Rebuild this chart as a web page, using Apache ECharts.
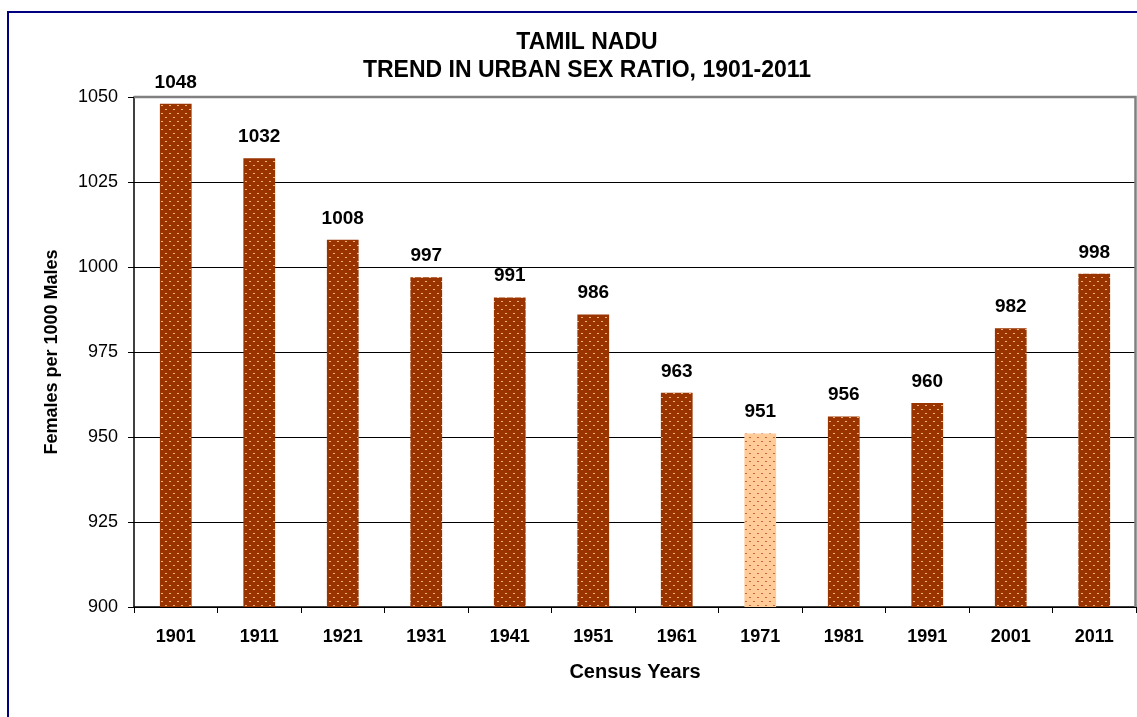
<!DOCTYPE html>
<html>
<head>
<meta charset="utf-8">
<script src="https://cdn.jsdelivr.net/npm/echarts@6/dist/echarts.min.js"></script>
<style>
  html, body { margin: 0; padding: 0; background: #fff; }
  #main { width: 1137px; height: 717px; }
</style>
</head>
<body>
<div id="main"></div>
<script>
var years = ['1901', '1911', '1921', '1931', '1941', '1951', '1961', '1971', '1981', '1991', '2001', '2011'];
var sexRatio = [1048, 1032, 1008, 997, 991, 986, 963, 951, 956, 960, 982, 998];
var lowestYear = '1971';
var yTicks = [900, 925, 950, 975, 1000, 1025, 1050];

// dotted fill like the spreadsheet pattern
function makePattern(bg, dot) {
  var c = document.createElement('canvas');
  c.width = 8; c.height = 8;
  var ctx = c.getContext('2d');
  ctx.fillStyle = bg;
  ctx.fillRect(0, 0, 8, 8);
  ctx.fillStyle = dot;
  ctx.fillRect(1, 1, 2, 1);
  ctx.fillRect(5, 5, 2, 1);
  return { image: c, repeat: 'repeat' };
}
var brown = makePattern('#993300', '#f2b27a');
var peach = makePattern('#ffcc99', '#c8642d');

var chart = echarts.init(document.getElementById('main'));
var font = 'Liberation Sans, Arial, sans-serif';

var option = {
  animation: false,
  textStyle: { fontFamily: font },
  title: {
    text: 'TAMIL NADU\nTREND IN URBAN SEX RATIO, 1901-2011',
    left: 582,
    textAlign: 'center',
    top: 24,
    textStyle: { fontSize: 23, fontWeight: 'bold', color: '#000', lineHeight: 28, fontFamily: font }
  },
  graphic: [{
    type: 'rect',
    shape: { x: 8, y: 12, width: 1300, height: 900 },
    style: { fill: 'none', stroke: '#000080', lineWidth: 2 },
    silent: true
  }, {
    type: 'polyline',
    shape: { points: [[134, 97], [1135.5, 97], [1135.5, 607]] },
    style: { fill: 'none', stroke: '#808080', lineWidth: 2.5 },
    silent: true,
    z: 10
  }],
  grid: { left: 134, right: 1, top: 97, bottom: 110 },
  xAxis: {
    type: 'category',
    data: years,
    name: 'Census Years',
    nameLocation: 'middle',
    nameGap: 55,
    nameTextStyle: { fontSize: 20, fontWeight: 'bold', color: '#000', fontFamily: font },
    axisLine: { lineStyle: { color: '#000', width: 1.5 } },
    axisTick: { show: true, alignWithLabel: false, length: 6, lineStyle: { color: '#000' } },
    axisLabel: { fontSize: 18, fontWeight: 'bold', color: '#000', margin: 21, fontFamily: font }
  },
  yAxis: {
    type: 'value',
    min: yTicks[0],
    max: yTicks[yTicks.length - 1],
    interval: 25,
    name: 'Females per 1000 Males',
    nameLocation: 'middle',
    nameGap: 73,
    nameTextStyle: { fontSize: 18, fontWeight: 'bold', color: '#000', fontFamily: font },
    axisLine: { show: true, lineStyle: { color: '#000', width: 1.5 } },
    axisTick: { show: true, length: 6, lineStyle: { color: '#000' } },
    axisLabel: {
      fontSize: 18, color: '#000', margin: 16, fontFamily: font,
      formatter: function (v) { return String(v); }
    },
    splitLine: { show: true, lineStyle: { color: '#000', width: 1 } }
  },
  series: [{
    type: 'bar',
    barWidth: '38%',
    data: sexRatio.map(function (v, i) {
      return {
        value: v,
        itemStyle: { color: years[i] === lowestYear ? peach : brown }
      };
    }),
    label: {
      show: true,
      position: 'top',
      distance: 12,
      fontSize: 19,
      fontWeight: 'bold',
      color: '#000',
      fontFamily: font
    }
  }]
};

chart.setOption(option);
</script>
</body>
</html>
